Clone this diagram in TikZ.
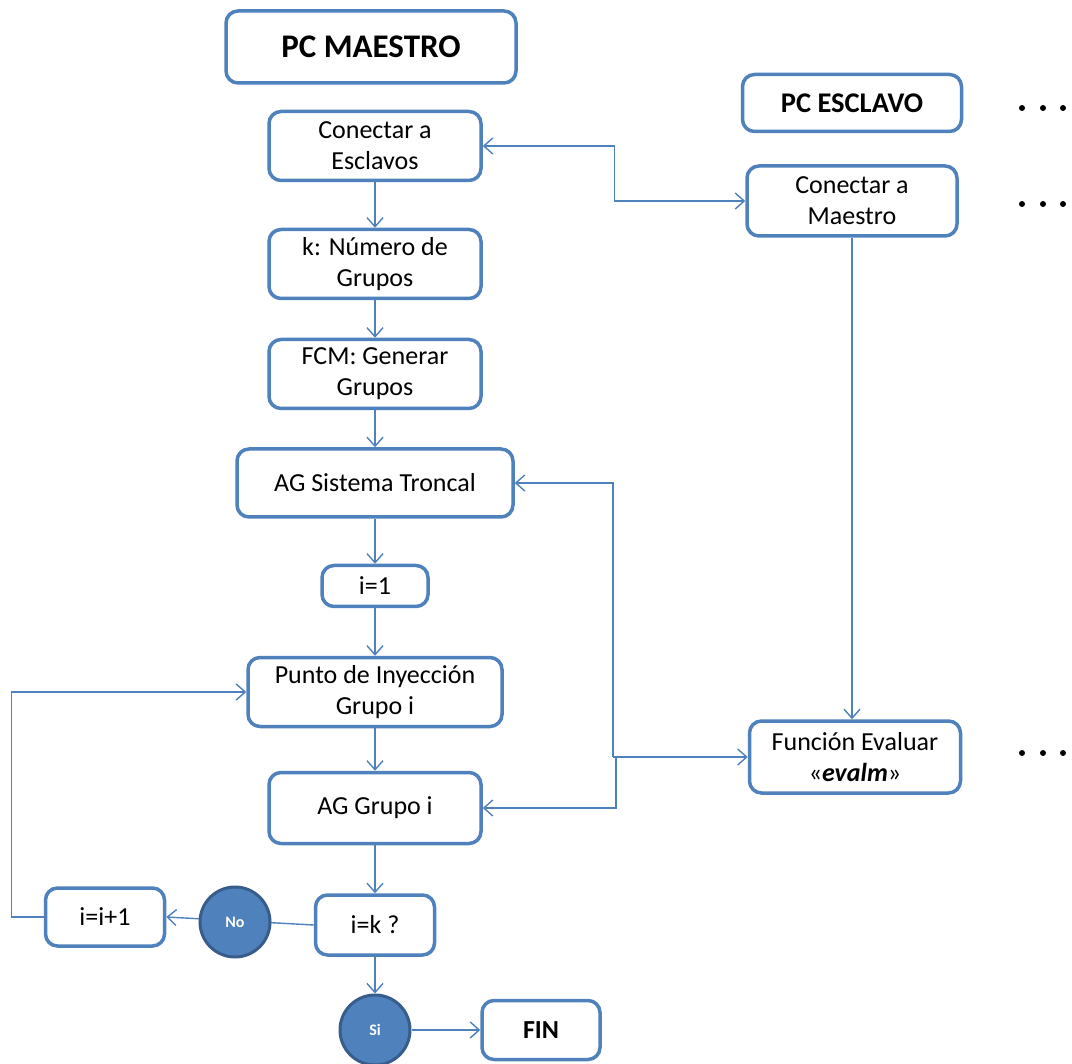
\documentclass[tikz,border=0pt]{standalone}
\usepackage{fontspec}
\setmainfont{Carlito}
\usetikzlibrary{arrows.meta}
\definecolor{boxblue}{HTML}{4F81BD}
\definecolor{circedge}{HTML}{385D8A}
\begin{document}
\begin{tikzpicture}[x=1pt,y=-1pt,
 box/.style={draw=boxblue, line width=3.5pt, rounded corners=12pt, fill=white, align=center, inner sep=0pt, font=\fontsize{26}{31}\selectfont},
 titlebox/.style={box, font=\bfseries\fontsize{33}{40}\selectfont},
 circ/.style={circle, fill=boxblue, draw=circedge, line width=3pt, minimum size=70pt, inner sep=0pt, text=white, font=\bfseries\fontsize{16}{18}\selectfont},
 conn/.style={draw=boxblue, line width=1.4pt},
 arr/.style={conn, -{Straight Barb[length=9pt,width=16pt]}},
 dotmark/.style={fill=black}
]
\useasboundingbox (0,0) rectangle (1072,1064);

\node[titlebox, minimum width=290, minimum height=72] (master) at (371,47) {PC MAESTRO};
\node[box, font=\bfseries\fontsize{28.5}{34}\selectfont, minimum width=219, minimum height=57] (slave) at (852,103) {PC ESCLAVO};
\node[box, minimum width=212, minimum height=69] (cesc) at (375,146) {Conectar a\\Esclavos};
\node[box, minimum width=210, minimum height=70] (cmae) at (852,201) {Conectar a\\Maestro};
\node[box, minimum width=212, minimum height=69] (k) at (375,264) {k: Número de\\Grupos};
\node[box, minimum width=212, minimum height=69] (fcm) at (375,374) {FCM: Generar\\Grupos};
\node[box, minimum width=276, minimum height=68] (tron) at (375,483) {AG Sistema Troncal};
\node[box, minimum width=106, minimum height=41] (i1) at (375,586) {i=1};
\node[box, minimum width=254, minimum height=69] (punto) at (375,692) {Punto de Inyección\\Grupo i};
\node[box, minimum width=212, minimum height=71] (agg) at (375,808) {AG Grupo i};
\node[box, minimum width=119, minimum height=60] (ik) at (375,925) {i=k ?};
\node[box, minimum width=119, minimum height=58] (inc) at (105,917) {i=i+1};
\node[box, font=\bfseries\fontsize{26}{31}\selectfont, minimum width=118, minimum height=59] (fin) at (541,1030) {FIN};
\node[box, minimum width=211, minimum height=72] (eval) at (855,757) {Función Evaluar\\«\textbf{\textit{evalm}}»};

% main column
\draw[arr] (cesc.south) -- (k.north);
\draw[arr] (k.south) -- (fcm.north);
\draw[arr] (fcm.south) -- (tron.north);
\draw[arr] (tron.south) -- (i1.north);
\draw[arr] (i1.south) -- (punto.north);
\draw[arr] (punto.south) -- (agg.north);
\draw[arr] (agg.south) -- (ik.north);

% master <-> slave
\draw[conn, {Straight Barb[length=9pt,width=16pt]}-{Straight Barb[length=9pt,width=16pt]}]
  (cesc.east) -- ++(132,0) |- (cmae.west);
\draw[arr] (cmae.south) -- (cmae.south |- eval.north);

% evaluation hub
\coordinate (hub) at (613,757);
\coordinate (hub2) at (616,757);
\draw[arr] (hub) |- (tron.east);
\draw[arr] (hub) -- (eval.west);
\draw[arr] (hub2) |- (agg.east);

% decision
\draw[arr] (ik.west) -- (inc.east);
\node[circ] (no) at (235,922) {No};
\draw[arr] (inc.west) -- ++(-32,0) |- (punto.west);
\node[circ] (si) at (375,1030) {Si};
\draw[arr] (ik.south) -- (si.north);
\draw[arr] (si.east) -- (fin.west);

% ellipsis dots
\foreach \yy in {108,204,753}{
  \foreach \xx in {1022,1043,1063}{
    \fill[dotmark] (\xx,\yy) circle (3pt);
  }
}
\end{tikzpicture}
\end{document}
